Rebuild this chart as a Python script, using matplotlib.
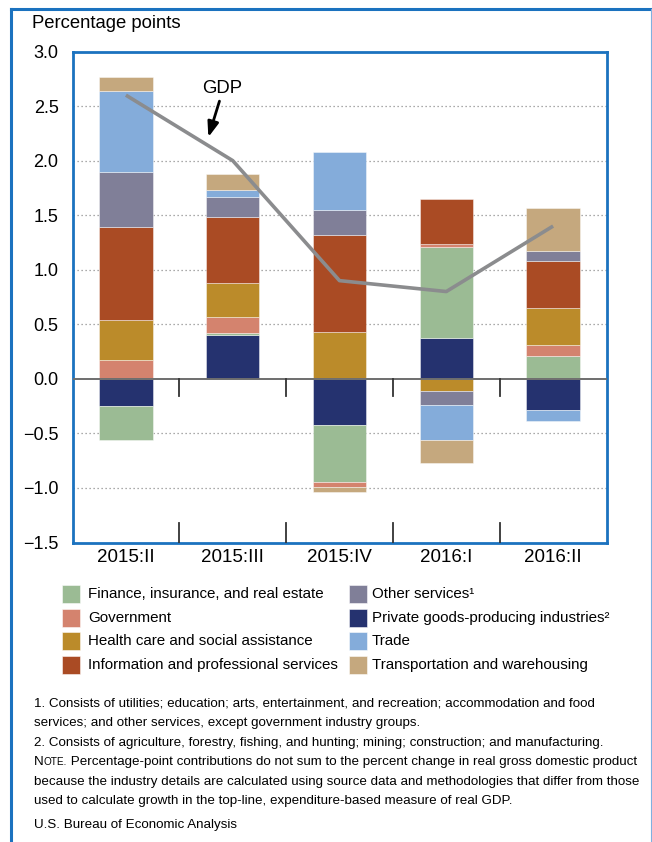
import matplotlib
matplotlib.use("Agg")
import matplotlib.pyplot as plt
import numpy as np
from matplotlib.patches import Rectangle
from matplotlib.lines import Line2D

plt.rcParams['font.family'] = ['Liberation Sans', 'DejaVu Sans']

# ---------------- data ----------------
quarters = ["2015:II", "2015:III", "2015:IV", "2016:I", "2016:II"]
gdp = [2.6, 2.0, 0.9, 0.8, 1.4]

# stacking order (from zero outward)
private_goods = [-0.25, 0.40, -0.42, 0.37, -0.29]
finance = [-0.31, 0.02, -0.53, 0.84, 0.21]
government = [0.17, 0.15, -0.04, 0.03, 0.10]
health = [0.37, 0.31, 0.43, -0.11, 0.34]
information = [0.85, 0.60, 0.89, 0.41, 0.43]
other_services = [0.51, 0.19, 0.23, -0.13, 0.09]
trade = [0.74, 0.06, 0.53, -0.32, -0.10]
transport = [0.13, 0.15, -0.05, -0.21, 0.40]

series = [
    ("Private goods-producing industries\u00b2", private_goods, "#25326f"),
    ("Finance, insurance, and real estate", finance, "#9bbb94"),
    ("Government", government, "#d4836e"),
    ("Health care and social assistance", health, "#bb8b2a"),
    ("Information and professional services", information, "#aa4b24"),
    ("Other services\u00b9", other_services, "#807f98"),
    ("Trade", trade, "#84acda"),
    ("Transportation and warehousing", transport, "#c5a87e"),
]
legend_order = [1, 2, 3, 4, 5, 0, 6, 7]

yticks = [3.0, 2.5, 2.0, 1.5, 1.0, 0.5, 0.0, -0.5, -1.0, -1.5]

footnotes = [
    "1. Consists of utilities; education; arts, entertainment, and recreation; accommodation and food",
    "services; and other services, except government industry groups.",
    "2. Consists of agriculture, forestry, fishing, and hunting; mining; construction; and manufacturing.",
]
note_lines = [
    " Percentage-point contributions do not sum to the percent change in real gross domestic product",
    "because the industry details are calculated using source data and methodologies that differ from those",
    "used to calculate growth in the top-line, expenditure-based measure of real GDP.",
]
source = "U.S. Bureau of Economic Analysis"

# ---------------- figure ----------------
W, H = 652, 842
fig = plt.figure(figsize=(W / 100, H / 100), dpi=100)

def fx(px):
    return px / W

def fy(py):
    return 1 - py / H

ax_l, ax_r, ax_t, ax_b = 72.5, 606.5, 51.5, 542.5
ax = fig.add_axes([fx(ax_l), fy(ax_b), fx(ax_r) - fx(ax_l), fy(ax_t) - fy(ax_b)])

blue = "#1b72bf"
x = np.arange(len(quarters))
pos_base = np.zeros(len(quarters))
neg_base = np.zeros(len(quarters))
for name, vals, col in series:
    v = np.array(vals, dtype=float)
    bottoms = np.where(v >= 0, pos_base, neg_base)
    ax.bar(x, v, width=0.5, bottom=bottoms, color=col, edgecolor=(1, 1, 1, 0.5),
           linewidth=0.6, zorder=3)
    pos_base = pos_base + np.where(v >= 0, v, 0)
    neg_base = neg_base + np.where(v < 0, v, 0)

ax.plot(x, gdp, color="#8b8c8e", linewidth=2.6, zorder=5, solid_capstyle='butt')

ax.axhline(0, color="#6e6e6e", linewidth=1.4, zorder=4)

ax.set_xlim(-0.5, len(quarters) - 0.5)
ax.set_ylim(-1.5, 3.0)
ax.set_yticks(yticks)
ax.set_yticklabels([f"{t:.1f}".replace("-", "\u2212") for t in yticks], fontsize=13)
ax.tick_params(axis='y', length=0, pad=10)
ax.set_xticks(x)
ax.set_xticklabels(quarters, fontsize=13.5)
ax.tick_params(axis='x', length=0, pad=5)

for yv in yticks[1:-1]:
    if yv != 0:
        ax.axhline(yv, color="#8f8f8f", linewidth=0.9, linestyle=(0, (1, 2.2)), zorder=1)

# category separator ticks
for xs in x[:-1] + 0.5:
    ax.plot([xs, xs], [0, -0.155], color="#333333", linewidth=1.3, zorder=4)
    ax.plot([xs, xs], [-1.5, -1.5 + 0.18], color="#333333", linewidth=1.3, zorder=4)

for sp in ax.spines.values():
    sp.set_color(blue)
    sp.set_linewidth(2.0)

# GDP annotation
ax.text(0.897, 2.665, "GDP", fontsize=13.3, ha='center', va='center', zorder=6)
ax.annotate("", xy=(0.772, 2.215), xytext=(0.876, 2.545), zorder=6,
            arrowprops=dict(arrowstyle='-|>,head_length=0.9,head_width=0.33',
                            color='black', lw=2.0, shrinkA=0, shrinkB=0))

# y-axis unit label
fig.text(fx(32), fy(24), "Percentage points", fontsize=13.3, ha='left', va='center')

# legend (manual)
col_sq = [62, 349]
col_tx = [88, 372]
row_y = [594, 618, 641, 665]
sq = 17.5
for k, idx in enumerate(legend_order):
    name, vals, col = series[idx]
    c, r = divmod(k, 4)
    fig.patches.append(Rectangle((fx(col_sq[c]), fy(row_y[r] + sq / 2)), sq / W, sq / H,
                                 transform=fig.transFigure, facecolor=col,
                                 edgecolor=(1, 1, 1, 0.6), linewidth=0.6))
    fig.text(fx(col_tx[c]), fy(row_y[r]), name, fontsize=10.9, ha='left', va='center')

# footnotes
fn_size = 9.6
line_y = [704, 723, 743, 762, 782, 801]
for t, yy in zip(footnotes, line_y[:3]):
    fig.text(fx(34), fy(yy), t, fontsize=fn_size, ha='left', va='center')

# "NOTE." in small caps, then text
fig.canvas.draw()
r = fig.canvas.get_renderer()
t1 = fig.text(fx(34), fy(line_y[3]), "N", fontsize=fn_size, ha='left', va='center')
bb = t1.get_window_extent(renderer=r)
t2 = fig.text(bb.x1 / W, fy(line_y[3]), "OTE.", fontsize=fn_size * 0.75, ha='left', va='center')
bb2 = t2.get_window_extent(renderer=r)
fig.text(bb2.x1 / W, fy(line_y[3]), note_lines[0], fontsize=fn_size, ha='left', va='center')
for t, yy in zip(note_lines[1:], line_y[4:]):
    fig.text(fx(34), fy(yy), t, fontsize=fn_size, ha='left', va='center')
fig.text(fx(34), fy(825), source, fontsize=fn_size, ha='left', va='center')

# outer frame
fig.lines.append(Line2D([fx(11), fx(11)], [fy(9), 0], transform=fig.transFigure,
                        color=blue, linewidth=2.2))
fig.lines.append(Line2D([fx(11), fx(651)], [fy(9), fy(9)], transform=fig.transFigure,
                        color=blue, linewidth=2.2))
fig.lines.append(Line2D([fx(651), fx(651)], [fy(9), 0], transform=fig.transFigure,
                        color="#7fb0e0", linewidth=0.8))

fig.savefig("out.png", dpi=100)
